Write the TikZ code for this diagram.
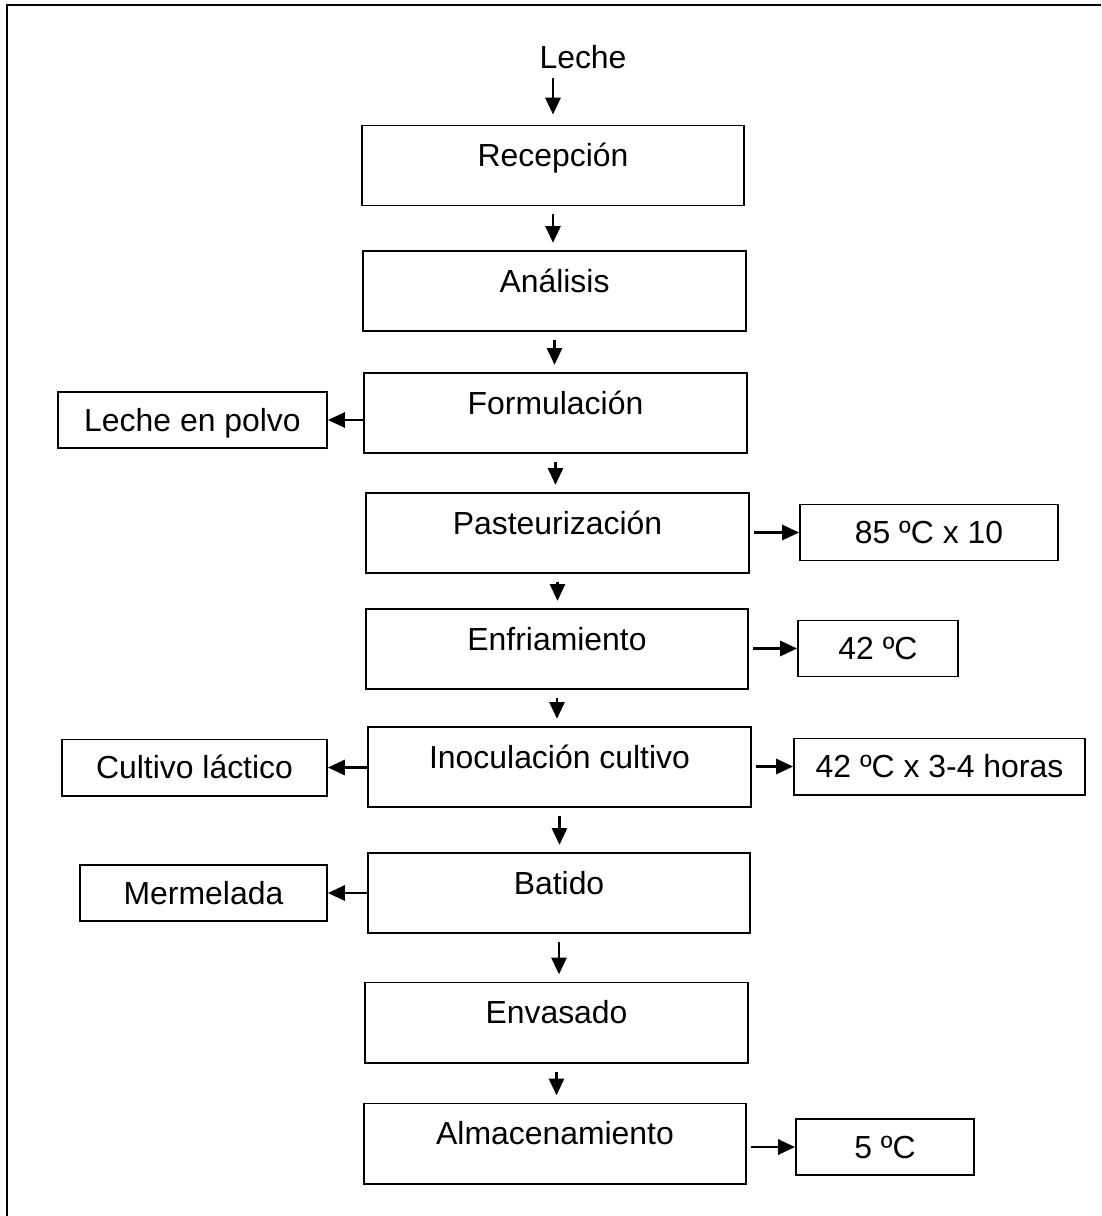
\documentclass[tikz,border=0pt]{standalone}
\usepackage{fontspec}
\setmainfont{Liberation Sans}
\usetikzlibrary{arrows.meta,positioning,calc}
\tikzset{
  stage/.style={draw, line width=1.4pt, minimum width=9.55cm, inner sep=0pt, text height=1.03cm, text depth=0.97cm},
  side/.style={draw, line width=1.4pt, inner sep=0pt, minimum width=#1, minimum height=1.4cm, text height=0.57cm, text depth=0pt},
  arr/.style={-{Triangle[length=0.42cm,width=0.38cm]}, line width=1.6pt},
  down/.style={arr, shorten <=0.2cm, shorten >=0.18cm},
}

\begin{document}
\begin{tikzpicture}[x=0.025cm, y=-0.025cm, font=\fontsize{22.7}{27}\selectfont]
    \useasboundingbox (0,0) rectangle (1101,1216);
    \draw[line width=1.8pt] (7,1216) |- (1101,5);
    % main line
    \node[anchor=base] (milk) at (583,69) {Leche};
    \node[stage] (rec) at (553,165.5) {Recepción};
    \node[stage] (ana) at (554.5,291) {Análisis};
    \node[stage] (form) at (555.5,413) {Formulación};
    \node[stage] (past) at (557.5,533) {Pasteurización};
    \node[stage] (cool) at (557,649) {Enfriamiento};
    \node[stage] (inoc) at (559.5,767) {Inoculación cultivo};
    \node[stage] (beat) at (559,893) {Batido};
    \node[stage] (pack) at (556.5,1022.5) {Envasado};
    \node[stage] (store) at (555,1143.5) {Almacenamiento};
    % inputs on the left
    \node[side=6.725cm, anchor=east] (powder) at (328,420) {Leche en polvo};
    \node[side=6.625cm, anchor=east] (culture) at (328,767.5) {Cultivo láctico};
    \node[side=6.175cm, anchor=east] (jam) at (328,893) {Mermelada};
    % conditions on the right
    \node[side=6.45cm, anchor=west] (t85) at (799,532.5) {85 ºC x 10};
    \node[side=4cm, anchor=west] (t42) at (797,648.5) {42 ºC};
    \node[side=7.275cm, anchor=west] (incub) at (793,766.5) {42 ºC x 3-4 horas};
    \node[side=4.45cm, anchor=west] (t5) at (795,1147) {5 ºC};
    \draw[arr, shorten <=0.1cm, shorten >=0.25cm] (milk.south -| rec.north) -- (rec.north);
    \foreach \p/\q in {rec/ana, ana/form, form/past, past/cool, cool/inoc, inoc/beat, beat/pack, pack/store}
      \draw[down] (\p.south) -- (\p.south |- \q.north);
    \foreach \m/\s in {form/powder, inoc/culture, beat/jam}
      \draw[arr] (\m.west |- \s.east) -- (\s.east);
    \foreach \m/\s in {past/t85, cool/t42, inoc/incub, store/t5}
      \draw[arr, shorten <=0.1cm] (\m.east |- \s.west) -- (\s.west);
  \end{tikzpicture}
\end{document}
